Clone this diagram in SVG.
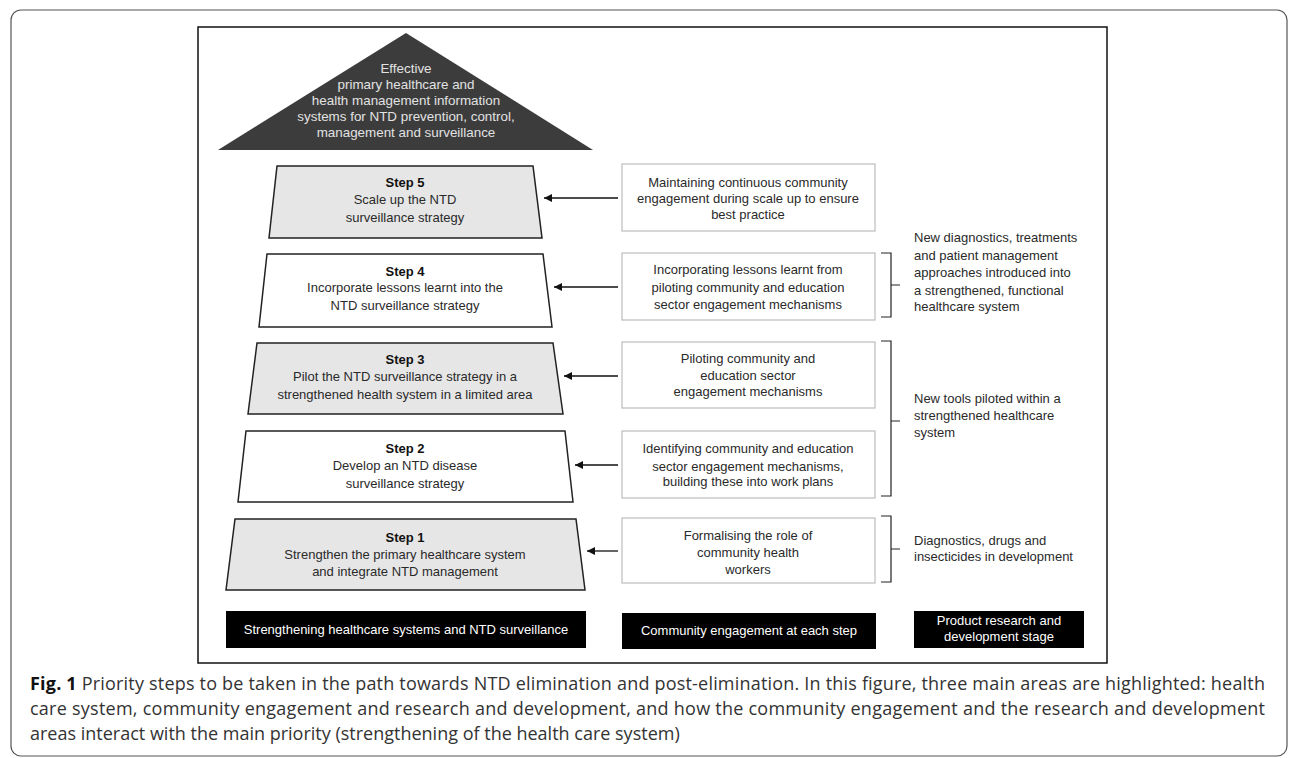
<svg xmlns="http://www.w3.org/2000/svg" width="1295" height="758" viewBox="0 0 1295 758">
<defs>
<marker id="ah" viewBox="0 0 10 10" refX="10" refY="5" markerWidth="10" markerHeight="8" markerUnits="userSpaceOnUse" orient="auto">
<path d="M0,0 L10,5 L0,10 z" fill="#111"/>
</marker>
<style>
text{font-family:"Liberation Sans",Arial,sans-serif;font-size:13px;fill:#2a2a2a;text-anchor:middle}
.b{font-weight:bold;fill:#111}
.tri{fill:#e2e2e2;font-size:13.4px}
.w{fill:#fff}
.l{text-anchor:start}
.trap{stroke:#222;stroke-width:1.5}
.g{fill:#e6e6e6}
.wf{fill:#fff}
.box{fill:#fff;stroke:#bdbdbd;stroke-width:1.2}
.blk{fill:#000}
.br{fill:none;stroke:#222;stroke-width:1.2}
.arr{stroke:#111;stroke-width:1.3;fill:none;marker-end:url(#ah)}
.cap{font-family:"Open Sans","Liberation Sans",sans-serif;font-size:18px;fill:#333;text-anchor:start}
</style>
</defs>
<rect x="11" y="10" width="1276" height="746" rx="10" fill="#fff" stroke="#555" stroke-width="1.2"/>
<rect x="198" y="27" width="909" height="636" fill="#fff" stroke="#111" stroke-width="1.5"/>

<g id="roof">
<polygon points="406,33 593,150 218,150" fill="#3c3c3c"/>
<text class="tri" x="406" y="73">Effective</text>
<text class="tri" x="406" y="89">primary healthcare and</text>
<text class="tri" x="406" y="105">health management information</text>
<text class="tri" x="406" y="121">systems for NTD prevention, control,</text>
<text class="tri" x="406" y="137">management and surveillance</text>
</g>

<g id="step5">
<polygon class="trap g" points="277,166 533,166 542,238 269,238"/>
<text class="b" x="405" y="187">Step 5</text>
<text x="405" y="204">Scale up the NTD</text>
<text x="405" y="222">surveillance strategy</text>
</g>
<g id="step4">
<polygon class="trap wf" points="267,254 543,254 552,327 259,327"/>
<text class="b" x="405" y="276">Step 4</text>
<text x="405" y="292">Incorporate lessons learnt into the</text>
<text x="405" y="310">NTD surveillance strategy</text>
</g>
<g id="step3">
<polygon class="trap g" points="257,343 553,343 563,414 248,414"/>
<text class="b" x="405" y="364">Step 3</text>
<text x="405" y="381">Pilot the NTD surveillance strategy in a</text>
<text x="405" y="399">strengthened health system in a limited area</text>
</g>
<g id="step2">
<polygon class="trap wf" points="246,431 565,431 573,502 238,502"/>
<text class="b" x="405" y="453">Step 2</text>
<text x="405" y="470">Develop an NTD disease</text>
<text x="405" y="488">surveillance strategy</text>
</g>
<g id="step1">
<polygon class="trap g" points="235,519 576,519 585,590 226,590"/>
<text class="b" x="405" y="542">Step 1</text>
<text x="405" y="559">Strengthen the primary healthcare system</text>
<text x="405" y="576">and integrate NTD management</text>
</g>

<g id="ce5">
<rect class="box" x="622" y="164" width="253" height="67"/>
<text x="748" y="187">Maintaining continuous community</text>
<text x="748" y="203">engagement during scale up to ensure</text>
<text x="748" y="219">best practice</text>
</g>
<g id="ce4">
<rect class="box" x="622" y="253" width="253" height="67"/>
<text x="748" y="274">Incorporating lessons learnt from</text>
<text x="748" y="292">piloting community and education</text>
<text x="748" y="309">sector engagement mechanisms</text>
</g>
<g id="ce3">
<rect class="box" x="622" y="342" width="253" height="66"/>
<text x="748" y="363">Piloting community and</text>
<text x="748" y="380">education sector</text>
<text x="748" y="396">engagement mechanisms</text>
</g>
<g id="ce2">
<rect class="box" x="622" y="431" width="253" height="67"/>
<text x="748" y="453">Identifying community and education</text>
<text x="748" y="471">sector engagement mechanisms,</text>
<text x="748" y="486">building these into work plans</text>
</g>
<g id="ce1">
<rect class="box" x="622" y="518" width="253" height="65"/>
<text x="748" y="540">Formalising the role of</text>
<text x="748" y="557">community health</text>
<text x="748" y="574">workers</text>
</g>

<g id="rd4">
<text class="l" x="914" y="242">New diagnostics, treatments</text>
<text class="l" x="914" y="260">and patient management</text>
<text class="l" x="914" y="277">approaches introduced into</text>
<text class="l" x="914" y="295">a strengthened, functional</text>
<text class="l" x="914" y="311">healthcare system</text>
</g>
<g id="rd23">
<text class="l" x="914" y="403">New tools piloted within a</text>
<text class="l" x="914" y="420">strengthened healthcare</text>
<text class="l" x="914" y="437">system</text>
</g>
<g id="rd1">
<text class="l" x="914" y="545">Diagnostics, drugs and</text>
<text class="l" x="914" y="561">insecticides in development</text>
</g>

<g id="label-hs">
<rect class="blk" x="226" y="611" width="360" height="37"/>
<text class="w" x="406" y="634">Strengthening healthcare systems and NTD surveillance</text>
</g>
<g id="label-ce">
<rect class="blk" x="622" y="613" width="254" height="36"/>
<text class="w" x="749" y="635">Community engagement at each step</text>
</g>
<g id="label-rd">
<rect class="blk" x="914" y="611" width="170" height="37"/>
<text class="w" x="999" y="625">Product research and</text>
<text class="w" x="999" y="641">development stage</text>
</g>

<g id="connectors">
<line class="arr" x1="618" y1="198" x2="544" y2="198"/>
<line class="arr" x1="618" y1="287" x2="554" y2="287"/>
<line class="arr" x1="618" y1="376" x2="564" y2="376"/>
<line class="arr" x1="618" y1="465" x2="575" y2="465"/>
<line class="arr" x1="618" y1="551" x2="587" y2="551"/>
<path class="br" d="M881,253 H891 V317 H881 M891,285 H900"/>
<path class="br" d="M881,341 H891 V496 H881 M891,421 H900"/>
<path class="br" d="M881,516 H891 V582 H881 M891,549 H900"/>
</g>

<g id="caption">
<text class="cap" x="30" y="690" textLength="1235" lengthAdjust="spacing"><tspan font-weight="bold" fill="#111">Fig. 1</tspan> Priority steps to be taken in the path towards NTD elimination and post-elimination. In this figure, three main areas are highlighted: health</text>
<text class="cap" x="30" y="715" textLength="1235" lengthAdjust="spacing">care system, community engagement and research and development, and how the community engagement and the research and development</text>
<text class="cap" x="30" y="740">areas interact with the main priority (strengthening of the health care system)</text>
</g>
</svg>
